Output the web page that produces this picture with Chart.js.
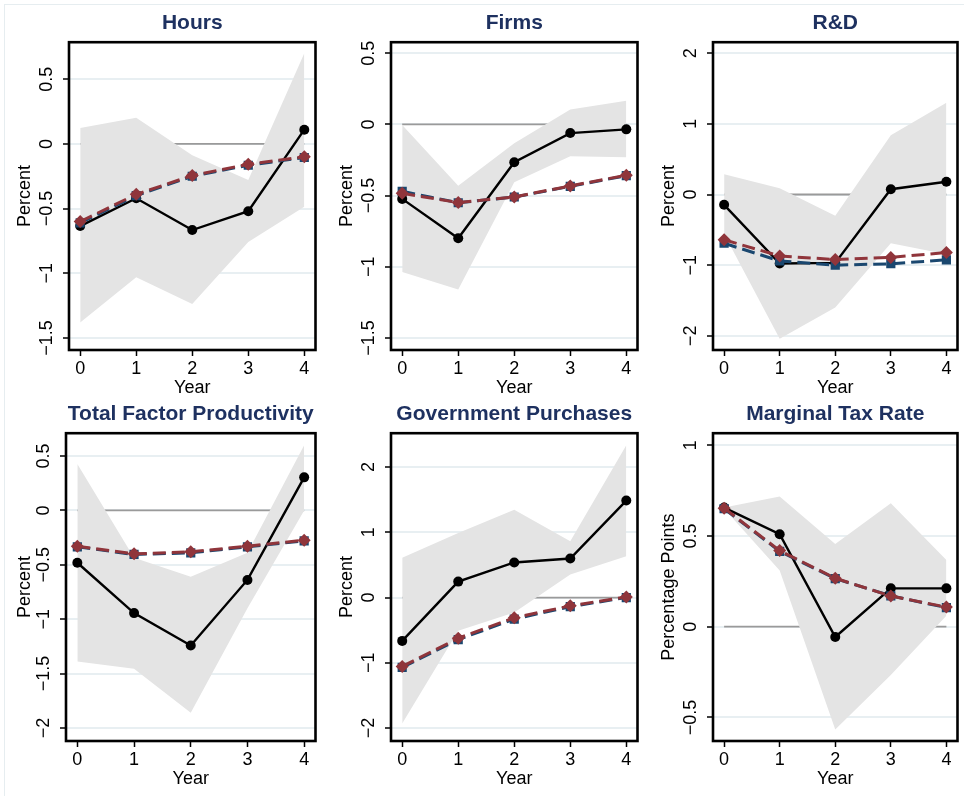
<!DOCTYPE html>
<html>
<head>
  <meta charset="utf-8">
  <title>Impulse responses</title>
  <script src="https://cdn.jsdelivr.net/npm/chart.js"></script>
  <style>
    body { margin: 0; background: #fff; overflow: hidden; }
    #wrap { position: relative; width: 964px; height: 796px; }
    #frame { position: absolute; left: 4px; top: 4px; width: 980px; height: 800px;
             border-left: 1px solid #e6edf0; border-top: 1px solid #e6edf0; }
    canvas { position: absolute; }
  </style>
</head>
<body>
<div id="wrap">
  <div id="frame"></div>
  <canvas id="c0" width="322" height="404" style="left:0px;top:0px"></canvas>
  <canvas id="c1" width="322" height="404" style="left:322px;top:0px"></canvas>
  <canvas id="c2" width="320" height="404" style="left:644px;top:0px"></canvas>
  <canvas id="c3" width="322" height="404" style="left:0px;top:391px"></canvas>
  <canvas id="c4" width="322" height="404" style="left:322px;top:391px"></canvas>
  <canvas id="c5" width="320" height="404" style="left:644px;top:391px"></canvas>
</div>

<script>
var years = [0, 1, 2, 3, 4];
var zeroLine = [0, 0, 0, 0, 0];

// Hours
var hoursEst  = [-0.635, -0.42, -0.666, -0.52, 0.11];
var hoursLo   = [-1.38, -1.03, -1.237, -0.758, -0.486];
var hoursHi   = [0.123, 0.203, -0.087, -0.28, 0.70];
var hoursBlue = [-0.61, -0.40, -0.25, -0.165, -0.105];
var hoursRed  = [-0.60, -0.39, -0.244, -0.157, -0.10];
var hoursTicks = [-1.5, -1, -0.5, 0, 0.5];

// Firms
var firmsEst  = [-0.523, -0.80, -0.266, -0.061, -0.035];
var firmsLo   = [-1.037, -1.159, -0.407, -0.224, -0.231];
var firmsHi   = [-0.005, -0.43, -0.133, 0.105, 0.166];
var firmsBlue = [-0.47, -0.55, -0.51, -0.435, -0.36];
var firmsRed  = [-0.484, -0.549, -0.509, -0.432, -0.357];
var firmsTicks = [-1.5, -1, -0.5, 0, 0.5];

// R&D
var rdEst  = [-0.146, -0.976, -0.967, 0.075, 0.18];
var rdLo   = [-0.56, -2.04, -1.6, -0.69, -0.845];
var rdHi   = [0.288, 0.09, -0.30, 0.84, 1.30];
var rdBlue = [-0.69, -0.94, -1.0, -0.98, -0.925];
var rdRed  = [-0.64, -0.87, -0.92, -0.89, -0.82];
var rdTicks = [-2, -1, 0, 1, 2];

// Total Factor Productivity
var tfpEst  = [-0.481, -0.944, -1.242, -0.639, 0.304];
var tfpLo   = [-1.388, -1.455, -1.86, -0.9, 0.0];
var tfpHi   = [0.426, -0.435, -0.61, -0.39, 0.60];
var tfpBlue = [-0.335, -0.405, -0.39, -0.335, -0.28];
var tfpRed  = [-0.329, -0.399, -0.381, -0.329, -0.274];
var tfpTicks = [-2, -1.5, -1, -0.5, 0, 0.5];

// Government Purchases
var govEst  = [-0.665, 0.244, 0.538, 0.599, 1.487];
var govLo   = [-1.93, -0.51, -0.23, 0.355, 0.634];
var govHi   = [0.609, 0.99, 1.345, 0.863, 2.335];
var govBlue = [-1.07, -0.645, -0.33, -0.14, 0.0];
var govRed  = [-1.056, -0.624, -0.31, -0.127, 0.01];
var govTicks = [-2, -1, 0, 1, 2];

// Marginal Tax Rate
var mtrEst  = [0.656, 0.509, -0.057, 0.211, 0.211];
var mtrLo   = [0.65, 0.31, -0.566, -0.267, 0.06];
var mtrHi   = [0.656, 0.717, 0.456, 0.68, 0.368];
var mtrBlue = [0.65, 0.415, 0.265, 0.17, 0.105];
var mtrRed  = [0.653, 0.419, 0.267, 0.169, 0.108];
var mtrTicks = [-0.5, 0, 0.5, 1];

var panels = [
  { id: 'c0', title: 'Hours', ytitle: 'Percent', est: hoursEst, lo: hoursLo, hi: hoursHi, blue: hoursBlue, red: hoursRed, ticks: hoursTicks, min: -1.593, max: 0.786, yw: 69 },
  { id: 'c1', title: 'Firms', ytitle: 'Percent', est: firmsEst, lo: firmsLo, hi: firmsHi, blue: firmsBlue, red: firmsRed, ticks: firmsTicks, min: -1.584, max: 0.577, yw: 69 },
  { id: 'c2', title: 'R&D', ytitle: 'Percent', est: rdEst, lo: rdLo, hi: rdHi, blue: rdBlue, red: rdRed, ticks: rdTicks, min: -2.2, max: 2.155, yw: 69 },
  { id: 'c3', title: 'Total Factor Productivity', ytitle: 'Percent', est: tfpEst, lo: tfpLo, hi: tfpHi, blue: tfpBlue, red: tfpRed, ticks: tfpTicks, min: -2.12, max: 0.71, yw: 66 },
  { id: 'c4', title: 'Government Purchases', ytitle: 'Percent', est: govEst, lo: govLo, hi: govHi, blue: govBlue, red: govRed, ticks: govTicks, min: -2.2, max: 2.52, yw: 69 },
  { id: 'c5', title: 'Marginal Tax Rate', ytitle: 'Percentage Points', est: mtrEst, lo: mtrLo, hi: mtrHi, blue: mtrBlue, red: mtrRed, ticks: mtrTicks, min: -0.63, max: 1.066, yw: 69 }
];

var FONT = '"Liberation Sans", Arial, sans-serif';
Chart.defaults.font.family = FONT;
Chart.defaults.font.size = 18;
Chart.defaults.color = '#000';

function fmt(v) {
  return (v < 0 ? '\u2212' : '') + Math.abs(v);
}

// padding so rotated y labels sit centred ~22px left of the axis
function yPad(ticks) {
  var c = document.createElement('canvas').getContext('2d');
  c.font = '18px ' + FONT;
  var w = Math.max.apply(null, ticks.map(function (t) { return c.measureText(fmt(t)).width; }));
  return 22 - 6 - w / 2;
}

function pts(arr) {
  return years.map(function (x, i) { return { x: x, y: arr[i] }; });
}

// black frame round the plot region
var boxPlugin = {
  id: 'box',
  afterDraw: function (chart) {
    var a = chart.chartArea, ctx = chart.ctx;
    ctx.save();
    ctx.strokeStyle = '#000';
    ctx.lineWidth = 2.6;
    ctx.strokeRect(a.left, a.top, a.right - a.left, a.bottom - a.top);
    ctx.restore();
  }
};

panels.forEach(function (p) {
  new Chart(document.getElementById(p.id), {
    type: 'line',
    data: {
      datasets: [
        { data: pts(p.red), borderColor: '#90353b', borderWidth: 3, borderDash: [13, 6],
          pointStyle: 'rectRot', pointRadius: 6.5, pointBackgroundColor: '#90353b', pointBorderWidth: 0 },
        { data: pts(p.blue), borderColor: '#1a476f', borderWidth: 3, borderDash: [13, 6],
          pointStyle: 'rect', pointRadius: 6.5, pointBackgroundColor: '#1a476f', pointBorderWidth: 0 },
        { data: pts(p.est), borderColor: '#000', borderWidth: 2.4,
          pointRadius: 5, pointBackgroundColor: '#000', pointBorderWidth: 0 },
        { data: pts(p.hi), borderColor: 'rgba(0,0,0,0)', borderWidth: 0, pointRadius: 0,
          fill: '+1', backgroundColor: '#e4e4e4' },
        { data: pts(p.lo), borderColor: 'rgba(0,0,0,0)', borderWidth: 0, pointRadius: 0, fill: false },
        { data: pts(zeroLine), borderColor: '#9a9a9a', borderWidth: 1.8, pointRadius: 0, fill: false }
      ]
    },
    options: {
      responsive: false,
      animation: false,
      layout: { padding: { left: 0, right: p.id === 'c2' || p.id === 'c5' ? 2 : 3, top: 0, bottom: 0 } },
      plugins: {
        legend: { display: false },
        tooltip: { enabled: false },
        title: {
          display: true, text: p.title, fullSize: false, color: '#1e3160',
          font: { size: 21, weight: 'bold' }, padding: { top: 11, bottom: 6 }
        }
      },
      scales: {
        x: {
          type: 'linear', min: -0.2, max: 4.2,
          afterBuildTicks: function (s) { s.ticks = years.map(function (v) { return { value: v }; }); },
          afterFit: function (s) { s.height = 54; },
          ticks: { padding: 2, font: { size: 18 } },
          grid: { drawOnChartArea: false, tickLength: 6, tickColor: '#000', tickWidth: 1.5 },
          border: { display: false },
          title: { display: true, text: 'Year', font: { size: 18 }, padding: { top: 0, bottom: 5 } }
        },
        y: {
          min: p.min, max: p.max,
          afterBuildTicks: function (s) { s.ticks = p.ticks.map(function (v) { return { value: v }; }); },
          afterFit: function (s) { s.width = p.yw; },
          ticks: { minRotation: 90, maxRotation: 90, crossAlign: 'center', padding: yPad(p.ticks),
                   callback: function (v) { return fmt(v); } },
          grid: { color: '#e8eff2', lineWidth: 2, tickLength: 6, tickColor: '#000', tickWidth: 1.5 },
          border: { display: false },
          title: { display: true, text: p.ytitle, font: { size: 18 }, padding: { top: 14, bottom: 0 } }
        }
      }
    },
    plugins: [boxPlugin]
  });
});
</script>
</body>
</html>
